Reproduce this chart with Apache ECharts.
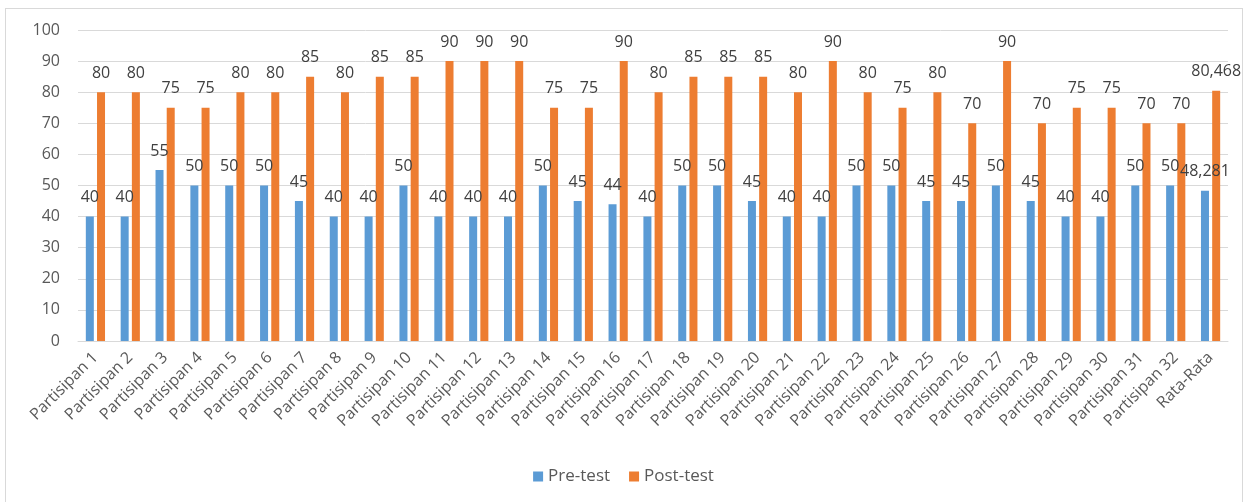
<html>
<head>
    <meta charset="utf-8">
    <title>Pre-test / Post-test</title>
    <style type="text/css">
        body { margin: 0; background: #fff; }
        #frame {
            position: absolute;
            left: 5px; top: 8px;
            width: 1236px; height: 500px;
            border: 1px solid #d9d9d9;
        }
        #chart { position: absolute; left: 0; top: 0; width: 1247px; height: 502px; }
    </style>
</head>
<body>
    <div id="frame"></div>
    <div id="chart"></div>
</body>
</html>

<script src="https://cdn.jsdelivr.net/npm/echarts@6/dist/echarts.min.js"></script>
<script>
    var categories = [];
    for (var i = 1; i <= 32; i++) categories.push('Partisipan ' + i);
    categories.push('Rata-Rata');

    var preTest = [40, 40, 55, 50, 50, 50, 45, 40, 40, 50, 40, 40, 40, 50, 45, 44,
        40, 50, 50, 45, 40, 40, 50, 50, 45, 45, 50, 45, 40, 40, 50, 50, 48.281];
    var postTest = [80, 80, 75, 75, 80, 80, 85, 80, 85, 85, 90, 90, 90, 75, 75, 90,
        80, 85, 85, 85, 80, 90, 80, 75, 80, 70, 90, 70, 75, 75, 70, 70, 80.468];

    var yTicks = [0, 10, 20, 30, 40, 50, 60, 70, 80, 90, 100];

    var font = '"Open Sans", "Noto Sans", sans-serif';

    // Excel-style decimal comma
    function fmt(p) {
        return String(p.value).replace('.', ',');
    }

    var labelStyle = {
        show: true,
        position: 'top',
        distance: 11,
        color: '#404040',
        fontSize: 16,
        fontFamily: font,
        formatter: fmt
    };

    var option = {
        animation: false,
        grid: { left: 78, right: 19, top: 30, bottom: 161 },
        legend: {
            data: ['Pre-test', 'Post-test'],
            bottom: 12,
            left: 'center',
            icon: 'rect',
            itemWidth: 10,
            itemHeight: 10,
            itemGap: 19,
            textStyle: { color: '#595959', fontSize: 17, fontFamily: font }
        },
        xAxis: {
            type: 'category',
            data: categories,
            axisTick: { show: false },
            axisLine: { lineStyle: { color: '#d9d9d9' } },
            axisLabel: {
                rotate: 45,
                interval: 0,
                margin: 14,
                color: '#595959',
                fontSize: 16,
                fontFamily: font
            }
        },
        yAxis: {
            type: 'value',
            min: yTicks[0],
            max: yTicks[yTicks.length - 1],
            interval: 10,
            axisLine: { show: false },
            axisTick: { show: false },
            axisLabel: { margin: 18, color: '#595959', fontSize: 16, fontFamily: font },
            splitLine: { lineStyle: { color: '#d9d9d9' } }
        },
        series: [{
            name: 'Pre-test',
            type: 'bar',
            data: preTest,
            barWidth: 8,
            barGap: '40%',
            itemStyle: { color: '#5b9bd5' },
            label: labelStyle
        }, {
            name: 'Post-test',
            type: 'bar',
            data: postTest,
            barWidth: 8,
            itemStyle: { color: '#ed7d31' },
            label: labelStyle
        }]
    };

    var chart = echarts.init(document.getElementById('chart'));
    chart.setOption(option);
</script>
